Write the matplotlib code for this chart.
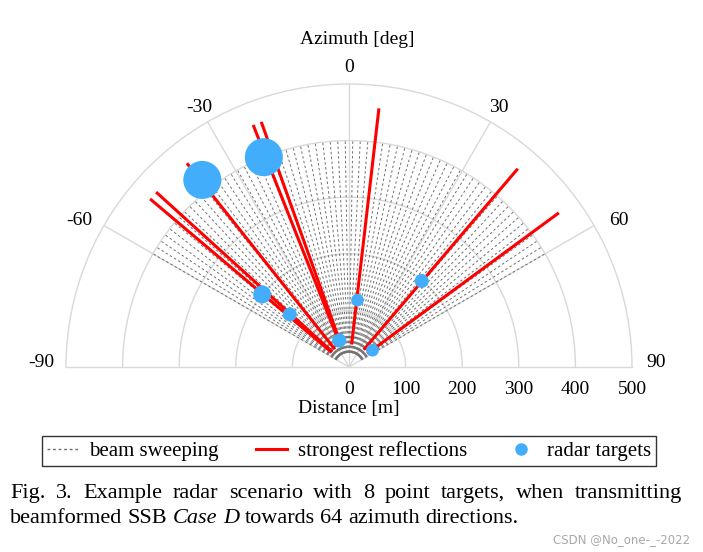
import numpy as np
import matplotlib
matplotlib.use('Agg')
import matplotlib.pyplot as plt
from matplotlib.lines import Line2D
from matplotlib.transforms import ScaledTranslation

# ---------------- data ----------------
beam_count = 64
beam_az_first = -60.0
beam_az_last = 60.0
beam_r_start = 25
beam_r_end = 400

refl_az = [-49.8, -47.8, -38.5, -21.6, -19.7, 6.6, 40.4, 53.7]
refl_r_start = 40
refl_r_end = 460

target_az = [-22.1, -38.1, -50.1, -48.4, -20.0, 7.2, 40.2, 54.5]
target_range = [400, 420, 200, 140, 50, 119, 199, 51]
target_size = [750, 750, 168, 102, 102, 83, 102, 83]

theta_ticks = [-90, -60, -30, 0, 30, 60, 90]
theta_grid = [-60, -30, 0, 30, 60]
r_ticks = [0, 100, 200, 300, 400, 500]
r_max = 500

legend_labels = ['beam sweeping', 'strongest reflections', 'radar targets']
caption_line1 = ['Fig.', '3.', 'Example', 'radar', 'scenario', 'with', '8', 'point',
                 'targets,', 'when', 'transmitting']
caption_line2 = [('beamformed', 'normal'), ('SSB', 'normal'), ('Case', 'italic'),
                 ('D', 'italic'), ('towards', 'normal'), ('64', 'normal'),
                 ('azimuth', 'normal'), ('directions.', 'normal')]

# ---------------- style ----------------
plt.rcParams['font.family'] = ['Liberation Serif', 'DejaVu Serif']
GRID = '#d9d9d9'
BEAM = '#6e6e6e'
RED = '#ff0000'
BLUE = '#42aefb'

W, H = 703, 552
fig = plt.figure(figsize=(W / 100, H / 100), dpi=100)
ox, oy, R = 349, 367, 283
# polar half-wedge is centred vertically in a square box of side 2R
box_center_top = oy - R / 2
box_bottom_top = box_center_top + R
ax = fig.add_axes([(ox - R) / W, (H - box_bottom_top) / H, 2 * R / W, 2 * R / H],
                  projection='polar')
ax.set_theta_zero_location('N')
ax.set_theta_direction(-1)
ax.set_thetamin(-90)
ax.set_thetamax(90)
ax.set_ylim(0, r_max)
ax.set_xticks(np.deg2rad(theta_grid))
ax.set_xticklabels([])
ax.set_yticks(r_ticks[1:-1])
ax.set_yticklabels([])
ax.tick_params(length=0)
ax.grid(True, color=GRID, lw=1)
for s in ax.spines.values():
    s.set_color(GRID)
    s.set_linewidth(1)

beam_az = np.linspace(beam_az_first, beam_az_last, beam_count)
for a in beam_az:
    ax.plot([np.deg2rad(a)] * 2, [beam_r_start, beam_r_end], color=BEAM, lw=0.7,
            ls=(0, (2.5, 2.5)), zorder=2)

for a in refl_az:
    ax.plot([np.deg2rad(a)] * 2, [refl_r_start, refl_r_end], color=RED, lw=2.2,
            solid_capstyle='butt', zorder=3)

ax.scatter(np.deg2rad(target_az), target_range, s=target_size, color=BLUE,
           edgecolors='none', zorder=5, clip_on=False)

# angular labels (placed just outside the outer ring)
lab_r = {0: 530, 30: 530, 60: 543, 90: 543}
lab_shift = {0: 0.0, 30: 0.0, 60: 1.5, 90: 0.0}
for a in theta_ticks:
    va = 'baseline' if abs(a) == 90 else 'center'
    th = a + np.sign(a) * lab_shift[abs(a)]
    ax.text(np.deg2rad(th), lab_r[abs(a)], str(a), ha='center', va=va, fontsize=14,
            clip_on=False)

# radial labels along baseline
off = ScaledTranslation(0, -0.23, fig.dpi_scale_trans)
for r in r_ticks:
    ax.text(np.deg2rad(90), r, str(r), transform=ax.transData + off, ha='center',
            va='center', fontsize=14, clip_on=False)

fig.text(357 / W, 1 - 40 / H, 'Azimuth [deg]', ha='center', va='center', fontsize=14)
fig.text(349 / W, 1 - 409 / H, 'Distance [m]', ha='center', va='center', fontsize=14)

handles = [Line2D([], [], color=BEAM, lw=1, ls=(0, (2, 2))),
           Line2D([], [], color=RED, lw=2.2),
           Line2D([], [], ls='none', marker='o', markersize=8, color=BLUE)]
leg = fig.legend(handles, legend_labels, loc='center',
                 bbox_to_anchor=(42 / W, 1 - 466 / H, 614 / W, 30 / H), mode='expand',
                 ncol=3, frameon=True, fancybox=False, edgecolor='black', fontsize=15,
                 borderaxespad=0, handlelength=1.5, handletextpad=0.5, borderpad=0.25)
leg.get_frame().set_linewidth(1)

# caption
fig.canvas.draw()
renderer = fig.canvas.get_renderer()
FS = 16
x_left, x_right = 10, 682
# line 1, justified
texts = [fig.text(0, 0, w, fontsize=FS, va='baseline', ha='left') for w in caption_line1]
widths = [t.get_window_extent(renderer).width for t in texts]
gap = (x_right - x_left - sum(widths)) / (len(texts) - 1)
x = x_left
for t, wd in zip(texts, widths):
    t.set_position((x / W, 1 - 498 / H))
    x += wd + gap
# line 2, natural spacing
space = 0.25 * FS * 100 / 72
x = x_left
for w, st in caption_line2:
    t = fig.text(x / W, 1 - 523 / H, w, fontsize=FS, style=st, va='baseline', ha='left')
    x += t.get_window_extent(renderer).width + space

fig.text(690 / W, 1 - 540 / H, 'CSDN @No_one-_-2022', ha='right', va='center',
         fontsize=8.5, color='#a8a8a8', family='DejaVu Sans')

fig.savefig('out.png', dpi=100)
